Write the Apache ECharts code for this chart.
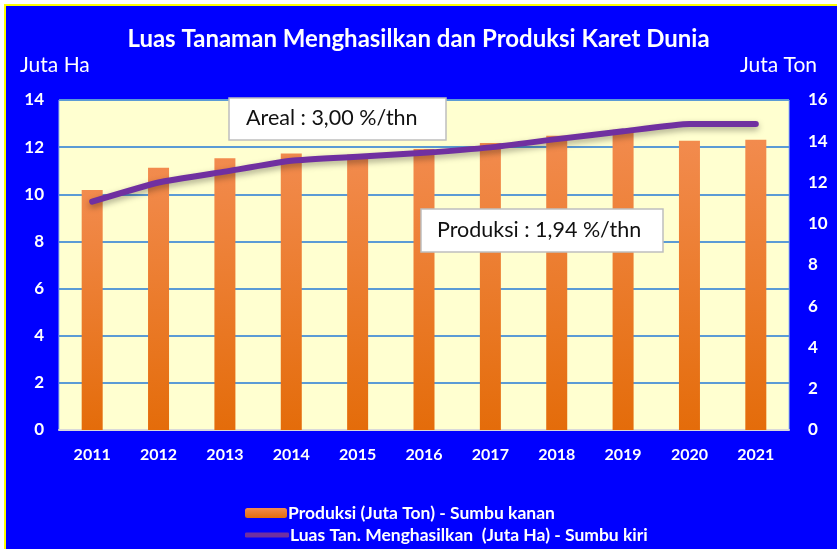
<!DOCTYPE html>
<html>
<head>
<meta charset="utf-8">
<script src="https://cdn.jsdelivr.net/npm/echarts@6/dist/echarts.min.js"></script>
<style>
  html, body { margin: 0; padding: 0; background: #fff; }
  #chart { width: 837px; height: 549px; }
</style>
</head>
<body>
<div id="chart"></div>
<script>
  // data
  var years = ['2011', '2012', '2013', '2014', '2015', '2016', '2017', '2018', '2019', '2020', '2021']
  var produksi = [11.64, 12.71, 13.17, 13.41, 13.36, 13.62, 13.91, 14.27, 14.56, 14.02, 14.07]   // juta ton, right axis
  var luas = [9.69, 10.5, 10.96, 11.42, 11.59, 11.76, 11.99, 12.34, 12.67, 12.98, 12.98]          // juta ha, left axis
  var leftTicks = [0, 14, 2]
  var rightTicks = [0, 16, 2]

  var barName = 'Produksi (Juta Ton) - Sumbu kanan'
  var lineName = 'Luas Tan. Menghasilkan  (Juta Ha) - Sumbu kiri'
  var fontFam = 'Lato'
  var chart = echarts.init(document.getElementById('chart'))

  var legendText = { color: '#fff', fontSize: 17.5, fontWeight: 'bold', fontFamily: fontFam, padding: [0, 0, 0, -4] }

  var options = {
    backgroundColor: '#ffffff',
    textStyle: { fontFamily: fontFam },
    title: {
      text: 'Luas Tanaman Menghasilkan dan Produksi Karet Dunia',
      left: 'center',
      top: 22,
      textStyle: { color: '#fff', fontSize: 24, fontWeight: 'bold', fontFamily: fontFam }
    },
    grid: {
      show: true,
      left: 59,
      right: 48,
      top: 100,
      bottom: 119,
      backgroundColor: '#FFFFD0',
      borderColor: '#9DC3E6',
      borderWidth: 1
    },
    legend: [{
      left: 240,
      top: 499,
      itemWidth: 42,
      itemHeight: 10,
      textStyle: legendText,
      data: [barName]
    }, {
      left: 240,
      top: 521,
      itemWidth: 44,
      itemHeight: 5,
      textStyle: legendText,
      data: [{ name: lineName, icon: 'roundRect' }]
    }],
    xAxis: {
      type: 'category',
      data: years,
      axisTick: { show: false },
      axisLine: { show: true, lineStyle: { color: '#D9D9D9', width: 2 } },
      axisLabel: { color: '#fff', fontSize: 16, fontWeight: 'bold', margin: 17 }
    },
    yAxis: [{
      type: 'value',
      min: leftTicks[0],
      max: leftTicks[1],
      interval: leftTicks[2],
      axisLine: { show: false },
      axisTick: { show: false },
      axisLabel: { color: '#fff', fontSize: 17, fontWeight: 'bold', margin: 15 },
      splitLine: { show: true, lineStyle: { color: '#5B9BD5', width: 2 } }
    }, {
      type: 'value',
      position: 'right',
      min: rightTicks[0],
      max: rightTicks[1],
      interval: rightTicks[2],
      axisLine: { show: false },
      axisTick: { show: false },
      axisLabel: { color: '#fff', fontSize: 17, fontWeight: 'bold', margin: 19 },
      splitLine: { show: false }
    }],
    graphic: [
      {
        type: 'rect', z: -10, silent: true,
        shape: { x: 5, y: 5, width: 840, height: 550 },
        style: { fill: '#0000FF', stroke: '#FFFF00', lineWidth: 2 }
      },
      {
        type: 'text', left: 20, top: 55, z: 10,
        style: { text: 'Juta Ha', fill: '#fff', font: '21px ' + fontFam }
      },
      {
        type: 'text', right: 20, top: 55, z: 10,
        style: { text: 'Juta Ton', fill: '#fff', font: '21px ' + fontFam }
      },
      { type: 'rect', z: 100, shape: { x: 229, y: 98, width: 217, height: 42 }, style: { fill: '#fff', stroke: '#BFBFBF', lineWidth: 1.5 } },
      { type: 'text', z: 101, x: 246, y: 107, style: { text: 'Areal : 3,00 %/thn', fill: '#111', font: '21.5px ' + fontFam } },
      { type: 'rect', z: 100, shape: { x: 421, y: 209, width: 242, height: 43 }, style: { fill: '#fff', stroke: '#BFBFBF', lineWidth: 1.5 } },
      { type: 'text', z: 101, x: 437, y: 219, style: { text: 'Produksi : 1,94 %/thn', fill: '#111', font: '21.5px ' + fontFam } }
    ],
    series: [{
      name: barName,
      type: 'bar',
      yAxisIndex: 1,
      barWidth: 21,
      data: produksi,
      itemStyle: {
        color: new echarts.graphic.LinearGradient(0, 0, 0, 1, [
          { offset: 0, color: '#F28B4E' },
          { offset: 1, color: '#E46C0A' }
        ]),
        shadowBlur: 6,
        shadowColor: 'rgba(0,0,0,0.35)'
      }
    }, {
      name: lineName,
      type: 'line',
      yAxisIndex: 0,
      data: luas,
      smooth: 0.15,
      symbol: 'none',
      showSymbol: false,
      lineStyle: {
        color: '#7030A0',
        width: 6,
        cap: 'round',
        shadowBlur: 6,
        shadowOffsetY: 3,
        shadowColor: 'rgba(0,0,0,0.35)'
      },
      itemStyle: { color: '#7030A0' }
    }]
  }

  chart.setOption(options, true)
</script>
</body>
</html>
